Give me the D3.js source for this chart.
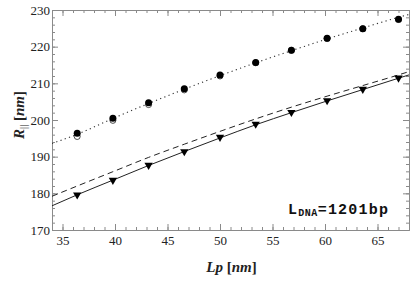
<!DOCTYPE html>
<html>
<head>
<meta charset="utf-8">
<script src="https://cdn.jsdelivr.net/npm/d3@7"></script>
<style>
  body { margin: 0; background: #fff; }
  svg { display: block; }
  svg text { font-family: "Liberation Serif", "Times New Roman", serif; }
</style>
</head>
<body>
<div id="chart"></div>
<script>
var width = 416,
    height = 283;
var margin = { left: 52, right: 7, top: 10, bottom: 53 };

// data
var lp = [36.4, 39.8, 43.2, 46.6, 50.0, 53.4, 56.8, 60.2, 63.6, 67.0];
var filledCircles = [196.4, 200.5, 204.7, 208.5, 212.3, 215.7, 219.0, 222.3, 224.9, 227.5];
var openCircles = [195.5, 199.9, 204.2, 208.2, 212.0, 215.6, 219.0, 222.2, 224.9, 227.4];
var triangles = [179.6, 183.6, 187.7, 191.4, 195.3, 198.9, 202.1, 205.3, 208.4, 211.5];

// fitted curves
var curveX = [34, 36.4, 39.8, 43.2, 46.6, 50.0, 53.4, 56.8, 60.2, 63.6, 67.0, 68];
var dottedCurve = [193.6, 196.1, 200.4, 204.5, 208.4, 212.1, 215.6, 218.9, 222.1, 225.1, 228.0, 228.8];
var solidCurve = [176.6, 179.6, 183.6, 187.6, 191.4, 195.1, 198.7, 202.0, 205.2, 208.3, 211.4, 212.3];
var dashedCurve = [179.2, 182.0, 185.9, 189.8, 193.4, 196.9, 200.3, 203.5, 206.5, 209.4, 212.3, 213.2];

var xTicks = [35, 40, 45, 50, 55, 60, 65];
var yTicks = [170, 180, 190, 200, 210, 220, 230];

var svg = d3.select('#chart')
            .append('svg')
            .attr('width', width)
            .attr('height', height);

var x = d3.scaleLinear().domain([34, 68]).range([margin.left, width - margin.right]);
var y = d3.scaleLinear().domain([170, 230]).range([height - margin.bottom, margin.top]);

var frameColor = '#8a8a8a';
var serif = 'Liberation Serif, Times New Roman, serif';

// minor ticks on all four sides
var xMinor = d3.range(34, 69, 1);
var yMinor = d3.range(170, 231, 2);

function frameAxis(axis, transform, showLabels) {
  var g = svg.append('g')
             .attr('transform', transform)
             .call(axis)
             .attr('font-family', serif)
             .attr('font-size', 13);
  g.select('.domain').attr('stroke', frameColor);
  g.selectAll('.tick line').attr('stroke', frameColor);
  if (!showLabels) g.selectAll('.tick text').remove();
  g.selectAll('.tick text').attr('fill', '#222');
  return g;
}

var x0 = height - margin.bottom, y0 = margin.top;
frameAxis(d3.axisBottom(x).tickValues(xMinor).tickSize(-3).tickSizeOuter(0).tickFormat(''), 'translate(0,' + x0 + ')', false);
frameAxis(d3.axisTop(x).tickValues(xMinor).tickSize(-3).tickSizeOuter(0).tickFormat(''), 'translate(0,' + y0 + ')', false);
frameAxis(d3.axisLeft(y).tickValues(yMinor).tickSize(-3).tickSizeOuter(0).tickFormat(''), 'translate(' + margin.left + ',0)', false);
frameAxis(d3.axisRight(y).tickValues(yMinor).tickSize(-3).tickSizeOuter(0).tickFormat(''), 'translate(' + (width - margin.right) + ',0)', false);

// major ticks with labels
frameAxis(d3.axisBottom(x).tickValues(xTicks).tickSize(-6).tickSizeOuter(0).tickPadding(6), 'translate(0,' + x0 + ')', true);
frameAxis(d3.axisTop(x).tickValues(xTicks).tickSize(-6).tickSizeOuter(0).tickFormat(''), 'translate(0,' + y0 + ')', false);
frameAxis(d3.axisLeft(y).tickValues(yTicks).tickSize(-6).tickSizeOuter(0).tickPadding(2), 'translate(' + margin.left + ',0)', true);
frameAxis(d3.axisRight(y).tickValues(yTicks).tickSize(-6).tickSizeOuter(0).tickFormat(''), 'translate(' + (width - margin.right) + ',0)', false);

// curves
svg.append('clipPath').attr('id', 'clip')
   .append('rect')
   .attr('x', margin.left).attr('y', margin.top)
   .attr('width', width - margin.left - margin.right)
   .attr('height', height - margin.top - margin.bottom);

var line = d3.line()
             .x(function(d) { return x(d[0]); })
             .y(function(d) { return y(d[1]); })
             .curve(d3.curveMonotoneX);

function zipCurve(vals) {
  return curveX.map(function(v, i) { return [v, vals[i]]; });
}

var plot = svg.append('g').attr('clip-path', 'url(#clip)');

plot.append('path')
    .attr('d', line(zipCurve(dottedCurve)))
    .attr('fill', 'none')
    .attr('stroke', '#333')
    .attr('stroke-width', 1.1)
    .attr('stroke-dasharray', '1.2,3.3');

plot.append('path')
    .attr('d', line(zipCurve(dashedCurve)))
    .attr('fill', 'none')
    .attr('stroke', '#222')
    .attr('stroke-width', 1)
    .attr('stroke-dasharray', '6,4');

plot.append('path')
    .attr('d', line(zipCurve(solidCurve)))
    .attr('fill', 'none')
    .attr('stroke', '#222')
    .attr('stroke-width', 1);

// markers
svg.selectAll('.open')
   .data(openCircles)
   .enter()
   .append('circle')
   .attr('class', 'open')
   .attr('cx', function(d, i) { return x(lp[i]); })
   .attr('cy', function(d) { return y(d); })
   .attr('r', 3)
   .attr('fill', '#fff')
   .attr('stroke', '#222')
   .attr('stroke-width', 0.8);

svg.selectAll('.filled')
   .data(filledCircles)
   .enter()
   .append('circle')
   .attr('class', 'filled')
   .attr('cx', function(d, i) { return x(lp[i]); })
   .attr('cy', function(d) { return y(d); })
   .attr('r', 3.5)
   .attr('fill', '#000');

var tri = d3.symbol().type(d3.symbolTriangle).size(30);
svg.selectAll('.tri')
   .data(triangles)
   .enter()
   .append('path')
   .attr('class', 'tri')
   .attr('d', tri)
   .attr('transform', function(d, i) { return 'translate(' + x(lp[i]) + ',' + y(d) + ') rotate(180)'; })
   .attr('fill', '#000');

// annotation
var note = svg.append('text')
              .attr('x', 288)
              .attr('y', 214)
              .style('font-family', '"Liberation Mono", "DejaVu Sans Mono", monospace')
              .attr('font-weight', 'bold')
              .attr('font-size', 15)
              .attr('letter-spacing', 1.2)
              .attr('fill', '#111');
note.append('tspan').text('L');
note.append('tspan').attr('font-size', 10).attr('letter-spacing', 0.5).attr('dy', 2).text('DNA');
note.append('tspan').attr('dy', -2).text('=1201bp');

// axis titles
var xTitle = svg.append('text')
                .attr('x', (margin.left + width - margin.right) / 2 + 1)
                .attr('y', 272)
                .attr('text-anchor', 'middle')
                .attr('font-weight', 'bold')
                .attr('font-style', 'italic')
                .attr('font-size', 15)
                .attr('fill', '#222');
xTitle.append('tspan').text('Lp ');
xTitle.append('tspan').attr('font-style', 'normal').text('[');
xTitle.append('tspan').text('nm');
xTitle.append('tspan').attr('font-style', 'normal').text(']');

var yTitle = svg.append('text')
                .attr('transform', 'translate(24,' + 115 + ') rotate(-90)')
                .attr('text-anchor', 'middle')
                .attr('font-weight', 'bold')
                .attr('font-style', 'italic')
                .attr('font-size', 15)
                .attr('fill', '#222');
yTitle.append('tspan').text('R');
yTitle.append('tspan').attr('font-size', 10).attr('font-style', 'normal').attr('font-weight', 'normal').attr('dy', 3).text('||');
yTitle.append('tspan').attr('dy', -3).attr('font-style', 'normal').text(' [');
yTitle.append('tspan').text('nm');
yTitle.append('tspan').attr('font-style', 'normal').text(']');
</script>
</body>
</html>
